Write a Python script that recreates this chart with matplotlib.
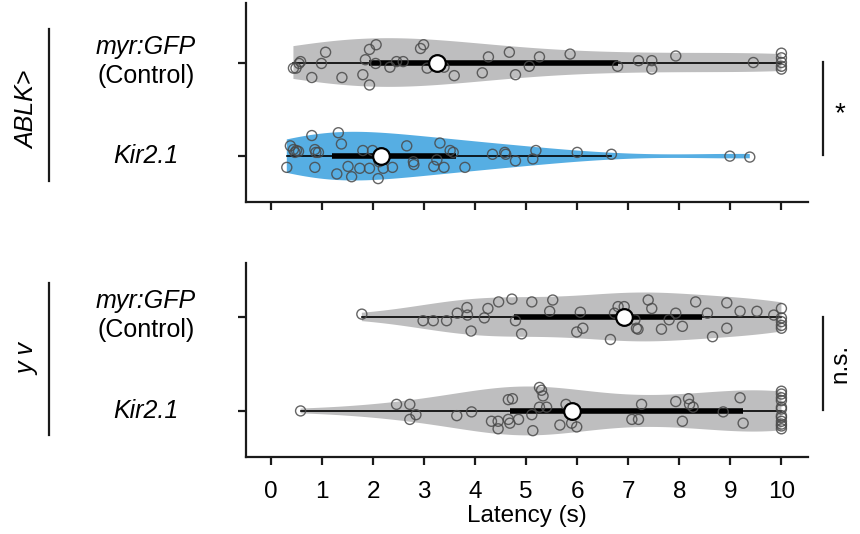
import matplotlib
matplotlib.use('Agg')
import matplotlib.pyplot as plt
import numpy as np
from matplotlib.lines import Line2D
from matplotlib import transforms

plt.rcParams['font.family'] = ['Liberation Sans', 'DejaVu Sans']

# latency (s) of each animal, and the vertical jitter of its dot (in row units)
ablk_ctrl_lat = [0.44, 0.49, 0.55, 0.58, 0.80, 0.99, 1.07, 1.39, 1.80, 1.85,
                 1.93, 1.93, 2.05, 2.06, 2.33, 2.46, 2.59, 2.93, 2.99, 3.06,
                 3.26, 3.39, 3.59, 4.14, 4.26, 4.67, 4.79, 5.06, 5.26, 5.86,
                 6.79, 7.20, 7.46, 7.46, 7.93, 9.45, 10, 10, 10, 10, 10]
ablk_ctrl_jit = [0.06, 0.06, 0.01, -0.01, 0.16, 0.01, -0.11, 0.16, 0.13, -0.03,
                 0.24, -0.14, 0.01, -0.19, 0.05, -0.01, -0.01, -0.15, -0.19, 0.06,
                 0.04, 0.05, 0.14, 0.11, -0.06, -0.11, 0.13, 0.04, -0.06, -0.09,
                 0.04, -0.02, -0.02, 0.07, -0.07, 0.0, -0.10, -0.05, 0.0, 0.04, 0.07]

ablk_kir_lat = [0.31, 0.38, 0.44, 0.47, 0.50, 0.54, 0.80, 0.86, 0.86, 0.88,
                0.93, 1.29, 1.32, 1.38, 1.51, 1.58, 1.74, 1.80, 1.93, 1.99,
                2.10, 2.12, 2.20, 2.38, 2.66, 2.79, 2.80, 3.19, 3.25, 3.31,
                3.39, 3.51, 3.57, 3.80, 4.34, 4.58, 4.60, 4.79, 5.13, 5.19,
                6.00, 6.67, 8.99, 9.38]
ablk_kir_jit = [0.12, -0.11, -0.07, -0.04, -0.06, -0.05, -0.22, -0.07, 0.12, -0.04,
                -0.04, 0.19, -0.25, -0.13, 0.11, 0.22, 0.13, -0.06, 0.13, -0.06,
                0.24, 0.06, 0.13, 0.12, -0.11, 0.06, 0.09, 0.11, 0.04, -0.14,
                0.12, -0.06, -0.04, 0.12, -0.02, -0.04, -0.02, 0.05, 0.03, -0.06,
                -0.04, -0.02, 0.0, 0.01]

yv_ctrl_lat = [1.78, 2.98, 3.18, 3.44, 3.65, 3.84, 3.85, 3.92, 4.18, 4.25,
               4.46, 4.72, 4.79, 4.91, 5.11, 5.46, 5.52, 5.99, 6.06, 6.11,
               6.65, 6.73, 6.80, 6.92, 6.97, 7.13, 7.16, 7.19, 7.39, 7.46,
               7.65, 7.80, 7.93, 8.06, 8.32, 8.55, 8.65, 8.93, 8.93, 9.19,
               9.52, 9.85, 10, 10, 10, 10, 10]
yv_ctrl_jit = [-0.03, 0.04, 0.04, 0.04, -0.04, -0.10, -0.02, 0.15, 0.01, -0.09,
               -0.16, -0.19, 0.04, 0.18, -0.16, -0.06, -0.18, 0.16, -0.05, 0.12,
               0.24, -0.04, -0.11, -0.11, 0.03, 0.03, 0.12, 0.13, -0.18, -0.09,
               0.13, 0.03, -0.04, 0.10, -0.16, -0.04, 0.21, -0.15, 0.12, -0.06,
               -0.06, -0.02, -0.09, 0.01, 0.05, 0.09, 0.12]

yv_kir_lat = [0.58, 2.46, 2.72, 2.72, 2.84, 3.64, 3.93, 4.32, 4.45, 4.45,
              4.65, 4.65, 4.68, 4.73, 4.85, 5.11, 5.13, 5.26, 5.26, 5.30,
              5.33, 5.40, 5.66, 5.78, 5.89, 5.99, 7.07, 7.20, 7.26, 7.93,
              8.06, 8.18, 8.20, 8.27, 8.86, 9.19, 9.25,
              10, 10, 10, 10, 10, 10, 10, 10, 10, 10, 10, 10]
yv_kir_jit = [0.0, -0.07, -0.07, 0.09, 0.04, 0.05, 0.01, 0.11, 0.11, 0.19,
              -0.12, 0.09, 0.13, -0.13, 0.09, 0.04, 0.21, -0.25, -0.04, -0.22,
              -0.16, -0.04, 0.15, -0.07, 0.13, 0.17, 0.09, 0.09, -0.07, -0.10,
              0.11, -0.13, -0.07, -0.04, 0.01, -0.14, 0.13,
              -0.21, -0.18, -0.14, -0.11, -0.04, -0.02, 0.05, 0.07, 0.11, 0.14, 0.16, 0.19]

x_ticks = list(range(0, 11))
grey = '#bebebf'
blue = '#56aee3'
dark = '#1a1a1a'
fs = 17.5

fig = plt.figure(figsize=(8.6, 5.34), dpi=100)
ax_top = fig.add_axes([0.2860, 0.6217, 0.6535, 0.3727])
ax_bot = fig.add_axes([0.2860, 0.1442, 0.6535, 0.3633])


def draw_row(ax, pos, lat, jit, col):
    lat = np.array(lat)
    vp = ax.violinplot([lat], positions=[pos], orientation='horizontal', widths=0.52,
                       showextrema=False)
    for b in vp['bodies']:
        b.set_facecolor(col)
        b.set_edgecolor('none')
        b.set_alpha(1)
        b.set_zorder(1)
    q1, med, q3 = np.percentile(lat, [25, 50, 75])
    iqr = q3 - q1
    lo = lat[lat >= q1 - 1.5 * iqr].min()
    hi = lat[lat <= q3 + 1.5 * iqr].max()
    ax.plot([lo, hi], [pos, pos], color='k', lw=1.2, zorder=2)
    ax.plot([q1, q3], [pos, pos], color='k', lw=4, solid_capstyle='butt', zorder=3)
    ax.scatter(lat, pos + np.array(jit), s=52, facecolors='none', edgecolors='#4a4a4a',
               linewidths=1.0, alpha=0.85, zorder=4)
    ax.plot(med, pos, 'o', ms=12, mfc='white', mec='k', mew=1.6, zorder=5)


def style_axes(ax, show_labels):
    ax.spines['top'].set_visible(False)
    ax.spines['right'].set_visible(False)
    for s in ['left', 'bottom']:
        ax.spines[s].set_linewidth(1.6)
        ax.spines[s].set_color(dark)
    ax.set_xlim(-0.49, 10.52)
    ax.set_xticks(x_ticks)
    ax.set_yticks([0, 1])
    ax.set_yticklabels([])
    ax.tick_params(axis='both', length=6, width=1.6, color=dark, labelsize=fs, pad=11.5)
    if not show_labels:
        ax.set_xticklabels([])


draw_row(ax_top, 0, ablk_ctrl_lat, ablk_ctrl_jit, grey)
draw_row(ax_top, 1, ablk_kir_lat, ablk_kir_jit, blue)
draw_row(ax_bot, 0, yv_ctrl_lat, yv_ctrl_jit, grey)
draw_row(ax_bot, 1, yv_kir_lat, yv_kir_jit, grey)

ax_top.set_ylim(1.49, -0.636)
ax_bot.set_ylim(1.49, -0.574)
style_axes(ax_top, False)
style_axes(ax_bot, True)

# row labels on the left
for ax in [ax_top, ax_bot]:
    tr = transforms.blended_transform_factory(fig.transFigure, ax.transData)
    ax.text(146 / 860, -0.17, 'myr:GFP', style='italic', fontsize=18, ha='center',
            va='center', transform=tr)
    ax.text(146 / 860, 0.14, '(Control)', fontsize=18, ha='center', va='center', transform=tr)
    ax.text(146 / 860, 1, 'Kir2.1', style='italic', fontsize=18, ha='center',
            va='center', transform=tr)

# genotype group labels with bars
fig.text(27 / 860, 1 - 110 / 534, 'ABLK>', style='italic', fontsize=18, rotation=90,
         ha='center', va='center')
fig.add_artist(Line2D([49 / 860, 49 / 860], [1 - 29 / 534, 1 - 181 / 534],
                      transform=fig.transFigure, color=dark, lw=1.6))
fig.text(27 / 860, 1 - 359 / 534, 'y v', style='italic', fontsize=18, rotation=90,
         ha='center', va='center')
fig.add_artist(Line2D([49 / 860, 49 / 860], [1 - 283 / 534, 1 - 435 / 534],
                      transform=fig.transFigure, color=dark, lw=1.6))

# significance
fig.add_artist(Line2D([823 / 860, 823 / 860], [1 - 62 / 534, 1 - 155 / 534],
                      transform=fig.transFigure, color=dark, lw=1.6))
fig.text(840 / 860, 1 - 114 / 534, '*', fontsize=20, ha='center', va='center')
fig.add_artist(Line2D([823 / 860, 823 / 860], [1 - 317 / 534, 1 - 410 / 534],
                      transform=fig.transFigure, color=dark, lw=1.6))
fig.text(840 / 860, 1 - 363 / 534, 'n.s.', fontsize=17.5, rotation=90, ha='center', va='center')

fig.text(527 / 860, 1 - 521.7 / 534, 'Latency (s)', fontsize=fs, ha='center', va='baseline')

fig.savefig('out.png', dpi=100)
